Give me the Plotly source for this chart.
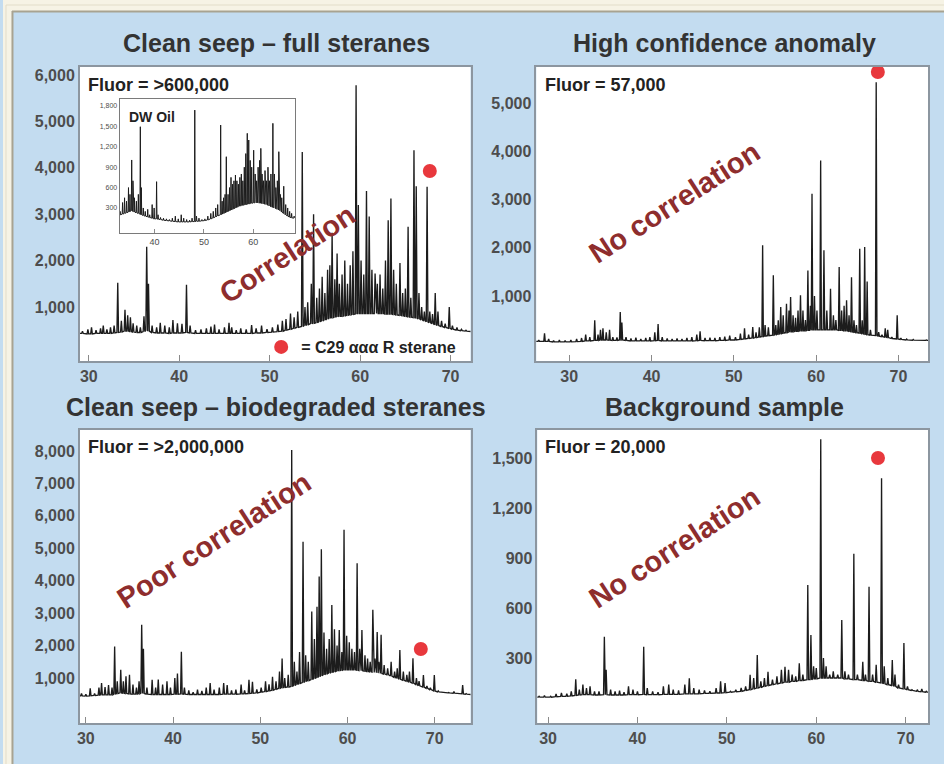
import plotly.graph_objects as go

W, H = 944, 764

# ---------------- data ----------------
# Panel 1: Clean seep - full steranes (retention time, apex, local floor)
p1_rt = [29.0, 29.3, 29.9, 30.3, 30.8, 31.3, 31.6, 32.0, 32.4, 32.8, 33.2, 33.6, 34.0, 34.3, 34.6, 34.9,
         35.3, 35.7, 36.1, 36.4, 36.6, 37.0, 37.5, 37.9, 38.4, 38.9, 39.3, 39.8, 40.3, 40.8, 41.2, 41.8,
         42.4, 43.0, 43.5, 43.9, 44.4, 45.0, 45.5, 45.8, 46.3, 46.8, 47.4, 48.0, 48.5, 49.1, 49.7, 50.3,
         50.9, 51.4, 51.8, 52.3, 52.7, 53.1, 53.6, 53.9, 54.2, 54.6, 54.85, 55.2, 55.5, 55.8, 56.1, 56.4,
         56.65, 56.9, 57.2, 57.45, 57.7, 58.0, 58.3, 58.6, 58.9, 59.2, 59.55, 59.8, 60.1, 60.4, 60.7, 61.0,
         61.3, 61.65, 61.9, 62.2, 62.5, 62.8, 63.1, 63.4, 63.7, 64.0, 64.4, 64.7, 65.0, 65.3, 65.6, 65.95,
         66.2, 66.5, 66.8, 67.1, 67.4, 67.7, 68.0, 68.3, 68.6, 69.0, 69.4, 69.85, 70.2, 70.7, 71.2, 71.7, 72.2]
p1_top = [430, 480, 520, 560, 500, 540, 600, 520, 560, 600, 1520, 700, 940, 820, 780, 650,
          600, 560, 800, 2300, 1500, 600, 560, 660, 600, 560, 720, 650, 640, 1480, 600, 500,
          520, 540, 580, 620, 520, 560, 660, 560, 500, 540, 520, 610, 540, 600, 520, 560,
          620, 700, 740, 860, 780, 900, 4340, 1000, 1100, 1500, 3000, 1200, 1400, 1650, 1300, 1800,
          1900, 2600, 1600, 2150, 1500, 1700, 2000, 1500, 1900, 2200, 5780, 3200, 2000, 1700, 3500, 2950,
          1800, 1720, 1500, 1700, 1400, 2000, 2870, 3340, 1800, 1500, 1950, 1300, 1400, 2730, 1200, 4380,
          3600, 1300, 1000, 900, 3590, 900, 850, 1300, 900, 700, 640, 1000, 600, 560, 520, 500, 470]
p1_base = [430, 430, 420, 420, 430, 430, 430, 430, 430, 440, 450, 460, 480, 480, 470, 460,
           450, 450, 470, 500, 480, 450, 440, 440, 440, 430, 440, 440, 440, 450, 440, 430,
           430, 430, 430, 430, 430, 430, 430, 430, 430, 430, 430, 430, 440, 440, 450, 460,
           470, 480, 500, 520, 540, 560, 580, 600, 620, 640, 650, 660, 680, 700, 720, 740,
           760, 770, 780, 790, 800, 800, 810, 820, 830, 840, 850, 860, 860, 860, 860, 860,
           860, 860, 860, 860, 860, 850, 850, 850, 840, 830, 820, 810, 800, 790, 780, 770,
           760, 740, 720, 700, 680, 660, 640, 620, 600, 580, 560, 540, 520, 500, 490, 480, 470]

# Inset: DW Oil
in_rt = [32.9, 33.0, 33.5, 33.9, 34.3, 34.7, 35.0, 35.35, 35.6, 35.9, 36.3, 36.7, 37.1, 37.3, 37.7, 38.1,
         38.6, 39.0, 39.5, 39.9, 40.4, 40.7, 41.2, 41.8, 42.4, 43.0, 43.6, 44.2, 44.8, 45.4, 45.9, 46.5,
         47.1, 47.6, 48.15, 48.5, 49.0, 49.6, 50.2, 50.8, 51.4, 51.9, 52.4, 52.8, 53.4, 53.7, 54.0, 54.3,
         54.55, 54.9, 55.2, 55.5, 55.8, 56.1, 56.4, 56.7, 57.0, 57.3, 57.6, 57.9, 58.2, 58.5, 58.8, 59.1,
         59.4, 59.7, 60.1, 60.4, 60.7, 61.0, 61.3, 61.55, 61.8, 62.1, 62.4, 62.7, 63.0, 63.3, 63.6, 64.0,
         64.3, 64.6, 64.9, 65.2, 65.5, 65.8, 66.2, 66.6, 67.0, 67.4, 67.8, 68.3, 68.6]
in_top = [200, 250, 380, 450, 400, 600, 500, 1006, 700, 450, 400, 500, 1495, 600, 300, 250,
          280, 200, 350, 300, 687, 200, 160, 150, 140, 130, 150, 180, 140, 200, 150, 130,
          120, 150, 1740, 180, 150, 130, 140, 180, 220, 250, 300, 350, 1520, 400, 450, 500,
          1054, 500, 600, 750, 650, 700, 785, 700, 650, 750, 800, 700, 900, 1100, 1398, 1300,
          1000, 900, 1150, 800, 700, 900, 1000, 1177, 800, 700, 850, 700, 900, 700, 800, 1545,
          800, 600, 700, 1128, 500, 450, 620, 350, 300, 250, 220, 180, 150]
in_base = [200, 200, 210, 220, 230, 240, 250, 260, 250, 240, 230, 220, 210, 200, 190, 180,
           170, 160, 150, 140, 140, 135, 130, 120, 115, 110, 105, 100, 95, 95, 95, 95,
           95, 100, 100, 105, 105, 110, 115, 125, 140, 155, 170, 185, 200, 210, 220, 230,
           240, 250, 260, 270, 280, 290, 300, 310, 320, 330, 335, 340, 345, 350, 355, 360,
           365, 370, 375, 375, 375, 375, 370, 370, 365, 360, 355, 350, 340, 330, 320, 310,
           300, 290, 280, 270, 260, 240, 220, 200, 180, 165, 155, 150, 150]

# Panel 2: High confidence anomaly
p2_rt = [26.0, 26.3, 27.0, 27.5, 28.1, 28.8, 29.5, 30.2, 30.9, 31.5, 32.0, 32.5, 33.1, 33.5, 33.8, 34.1,
         34.5, 34.9, 35.3, 35.8, 36.2, 36.4, 36.9, 37.5, 38.1, 38.7, 39.3, 39.8, 40.4, 40.8, 41.3, 41.9,
         42.5, 43.1, 43.7, 44.3, 44.9, 45.5, 45.9, 46.5, 47.1, 47.7, 48.3, 48.9, 49.5, 50.2, 50.8, 51.3,
         51.8, 52.3, 52.7, 53.1, 53.5, 53.8, 54.2, 54.8, 55.1, 55.4, 55.7, 56.0, 56.4, 56.7, 56.9, 57.2,
         57.5, 57.8, 58.1, 58.4, 58.7, 59.0, 59.3, 59.5, 59.8, 60.1, 60.55, 60.95, 61.3, 61.75, 62.1, 62.4,
         62.8, 63.1, 63.4, 63.7, 64.0, 64.3, 64.6, 64.9, 65.3, 65.6, 65.9, 66.2, 66.6, 67.3, 67.6, 68.0,
         68.4, 68.7, 69.2, 69.85, 70.3, 71.0, 71.8, 72.6, 73.4, 73.8]
p2_top = [60, 90, 230, 110, 80, 90, 80, 90, 110, 130, 200, 150, 500, 200, 300, 330,
          250, 300, 150, 140, 670, 450, 150, 120, 140, 110, 130, 150, 250, 420, 150, 120,
          110, 120, 110, 130, 150, 200, 270, 130, 140, 130, 150, 160, 180, 150, 220, 330,
          200, 360, 250, 350, 2050, 400, 350, 1430, 400, 500, 770, 600, 840, 700, 980, 600,
          550, 700, 1015, 700, 500, 1530, 800, 3120, 1000, 700, 3810, 1950, 700, 1150, 600, 500,
          1600, 700, 800, 910, 600, 1390, 500, 400, 1980, 500, 2015, 1300, 300, 5430, 250, 200,
          330, 300, 150, 600, 130, 110, 100, 90, 90, 80]
p2_base = [60, 60, 60, 60, 50, 50, 50, 50, 55, 60, 70, 70, 80, 80, 90, 90,
           90, 85, 80, 80, 90, 90, 80, 70, 70, 70, 70, 70, 75, 80, 70, 70,
           70, 70, 70, 70, 70, 75, 80, 75, 75, 75, 80, 80, 90, 90, 100, 110,
           120, 130, 140, 150, 160, 170, 180, 190, 200, 210, 220, 230, 240, 250, 260, 260,
           270, 270, 280, 280, 280, 290, 290, 300, 300, 300, 300, 300, 300, 300, 300, 300,
           290, 290, 280, 280, 270, 260, 250, 240, 230, 220, 210, 200, 190, 180, 170, 160,
           150, 140, 120, 110, 100, 90, 85, 80, 80, 80]

# Panel 3: Clean seep - biodegraded steranes
p3_rt = [29.3, 29.5, 30.0, 30.5, 31.0, 31.5, 31.8, 32.2, 32.6, 33.0, 33.3, 33.6, 34.0, 34.3, 34.6, 35.0,
         35.4, 35.8, 36.1, 36.4, 36.6, 37.0, 37.6, 38.0, 38.3, 38.8, 39.3, 39.7, 40.2, 40.5, 40.95, 41.3,
         41.8, 42.3, 42.8, 43.3, 43.8, 44.25, 44.7, 45.3, 45.8, 46.2, 46.7, 47.2, 47.8, 48.2, 48.7, 49.1,
         49.6, 50.1, 50.6, 51.0, 51.4, 51.8, 52.2, 52.5, 52.8, 53.2, 53.6, 53.9, 54.2, 54.5, 54.9, 55.2,
         55.5, 55.9, 56.2, 56.5, 56.75, 57.0, 57.3, 57.6, 57.9, 58.2, 58.5, 58.8, 59.05, 59.35, 59.6, 59.9,
         60.2, 60.5, 60.8, 61.1, 61.4, 61.65, 62.0, 62.3, 62.6, 62.9, 63.15, 63.4, 63.6, 63.85, 64.2, 64.6,
         65.0, 65.4, 65.7, 66.0, 66.4, 66.8, 67.1, 67.5, 67.9, 68.2, 68.7, 69.1, 69.5, 69.95, 70.4, 71.0,
         71.6, 72.2, 72.7, 73.2, 73.6, 74.1]
p3_top = [450, 520, 500, 680, 520, 700, 840, 720, 780, 700, 1970, 900, 1250, 900, 1050, 1100,
          800, 700, 900, 2640, 1900, 700, 940, 700, 950, 800, 900, 700, 1000, 1140, 1810, 700,
          620, 560, 640, 600, 700, 840, 640, 700, 840, 780, 620, 640, 800, 620, 940, 880,
          650, 700, 900, 800, 1040, 900, 1200, 1600, 1000, 1100, 8030, 1500, 1200, 1800, 5200, 1700,
          1500, 3050, 2200, 3200, 4130, 4970, 2400, 1900, 2200, 3250, 2500, 2000, 2480, 1800, 5570, 2300,
          2100, 1900, 1800, 4540, 1900, 2480, 1700, 1600, 1500, 3100, 1600, 2420, 1500, 2330, 1400, 1300,
          1500, 1200, 1300, 1860, 1200, 1100, 1200, 1610, 1000, 900, 1090, 750, 700, 1090, 600, 560,
          550, 580, 540, 785, 520, 490]
p3_base = [450, 450, 440, 450, 460, 470, 480, 480, 480, 480, 500, 520, 540, 530, 520, 510,
           500, 500, 510, 530, 520, 500, 490, 490, 490, 490, 490, 490, 500, 500, 510, 500,
           490, 490, 490, 490, 490, 490, 490, 490, 500, 500, 500, 500, 510, 510, 520, 530,
           540, 560, 580, 600, 620, 650, 680, 700, 710, 720, 740, 770, 800, 830, 860, 890,
           920, 950, 980, 1010, 1040, 1070, 1100, 1130, 1150, 1170, 1190, 1210, 1230, 1240, 1250, 1250,
           1250, 1250, 1250, 1240, 1230, 1220, 1210, 1200, 1190, 1180, 1170, 1160, 1150, 1140, 1120, 1100,
           1060, 1020, 990, 960, 930, 900, 870, 840, 800, 760, 720, 680, 640, 600, 570, 550,
           540, 530, 520, 510, 500, 490]

# Panel 4: Background sample
p4_rt = [28.8, 29.0, 29.6, 30.3, 30.9, 31.5, 32.1, 32.6, 33.1, 33.5, 33.9, 34.3, 34.7, 35.2, 35.7, 36.3,
         36.5, 37.0, 37.5, 38.0, 38.5, 39.0, 39.5, 40.0, 40.7, 41.1, 41.7, 42.3, 42.9, 43.5, 44.0, 44.6,
         45.3, 45.8, 46.3, 46.9, 47.5, 48.1, 48.8, 49.3, 49.8, 50.4, 51.0, 51.6, 52.1, 52.6, 53.0, 53.4,
         53.8, 54.2, 54.6, 55.1, 55.6, 56.1, 56.5, 56.9, 57.3, 57.7, 58.1, 58.5, 59.05, 59.4, 59.7, 60.0,
         60.5, 60.8, 61.1, 61.5, 61.9, 62.4, 62.85, 63.2, 63.6, 64.2, 64.6, 65.2, 65.5, 65.9, 66.3, 66.7,
         67.3, 67.6, 68.0, 68.5, 68.8, 69.2, 69.8, 70.2, 70.7, 71.3, 71.8, 72.3, 72.6]
p4_top = [65, 70, 75, 70, 85, 90, 85, 100, 172, 110, 140, 120, 130, 100, 100, 428,
          230, 110, 100, 105, 95, 130, 110, 100, 368, 120, 100, 95, 130, 140, 110, 105,
          140, 178, 120, 110, 105, 100, 120, 160, 150, 100, 110, 120, 130, 200, 180, 318,
          160, 180, 218, 170, 190, 230, 248, 230, 200, 190, 268, 200, 738, 438, 250, 240,
          1612, 300, 250, 200, 220, 200, 528, 220, 200, 926, 200, 278, 200, 728, 200, 260,
          1378, 250, 180, 288, 200, 140, 390, 130, 110, 110, 115, 100, 95]
p4_base = [65, 65, 65, 65, 68, 70, 70, 72, 75, 78, 80, 80, 80, 78, 78, 80,
           80, 78, 78, 78, 78, 80, 80, 80, 82, 80, 80, 80, 82, 82, 82, 82,
           85, 85, 85, 85, 88, 88, 90, 90, 92, 95, 98, 100, 105, 110, 115, 120,
           125, 130, 135, 140, 145, 150, 155, 155, 160, 160, 165, 165, 170, 170, 175, 175,
           180, 180, 180, 180, 180, 180, 180, 175, 175, 170, 170, 165, 165, 160, 160, 155,
           150, 145, 140, 135, 130, 120, 115, 110, 105, 100, 98, 95, 95]

# C29 aaa R sterane markers (one per panel: full, anomaly, biodegraded, background)
dot_rt = [67.7, 67.5, 68.4, 66.9]
dot_val = [3930, 5640, 1895, 1500]

titles = ["Clean seep \u2013 full steranes", "High confidence anomaly",
          "Clean seep \u2013 biodegraded steranes", "Background sample"]
fluor = ["Fluor = >600,000", "Fluor = 57,000", "Fluor = >2,000,000", "Fluor = 20,000"]
verdicts = ["Correlation", "No correlation", "Poor correlation", "No correlation"]

x_ticks = [30, 40, 50, 60, 70]
y_ticks = [[1000, 2000, 3000, 4000, 5000, 6000],
           [1000, 2000, 3000, 4000, 5000],
           [1000, 2000, 3000, 4000, 5000, 6000, 7000, 8000],
           [300, 600, 900, 1200, 1500]]
inset_xticks = [40, 50, 60]
inset_yticks = [300, 600, 900, 1200, 1500, 1800]

# ---------------- layout constants ----------------
FONT = "Liberation Sans, Arial, Helvetica, sans-serif"
BLUE = "#c3dcf0"
CREAM = "#f6f3e5"
LINE = "#1c1c1c"
RED = "#e8383d"
DARKRED = "#8e2d2d"
FRAME = "#8c96a0"
TICK = "#4d4d4d"


def px_x(p):
    return p / W


def px_y(p):
    return 1 - p / H


def chrom(rt, top, base, hw):
    xs, ys = [], []
    for t, a, b in sorted(zip(rt, top, base)):
        xs += [t - hw, t, t + hw]
        ys += [b, a, b]
    return xs, ys


panels = [
    dict(x=(77, 469), y=(67, 361), xr=[29.0, 72.2], yr=[-164, 6172], data=(p1_rt, p1_top, p1_base)),
    dict(x=(535, 928), y=(67, 361), xr=[26.0, 73.6], yr=[-346, 5745], data=(p2_rt, p2_top, p2_base)),
    dict(x=(77, 469), y=(430, 723), xr=[29.3, 74.1], yr=[-389, 8648], data=(p3_rt, p3_top, p3_base)),
    dict(x=(536, 928), y=(430, 723), xr=[28.8, 72.5], yr=[-90, 1668], data=(p4_rt, p4_top, p4_base)),
]

fig = go.Figure()
layout = {}

for i, p in enumerate(panels):
    n = i + 1
    xa = "x" if n == 1 else f"x{n}"
    ya = "y" if n == 1 else f"y{n}"
    xs, ys = chrom(*p["data"], hw=0.09)
    fig.add_trace(go.Scatter(x=xs, y=ys, mode="lines", xaxis=xa, yaxis=ya,
                             line=dict(color=LINE, width=1.35), showlegend=False, hoverinfo="skip"))
    fig.add_trace(go.Scatter(x=[dot_rt[i]], y=[dot_val[i]], mode="markers", xaxis=xa, yaxis=ya,
                             marker=dict(color=RED, size=14), showlegend=(n == 1),
                             name="= C29 \u03b1\u03b1\u03b1 R sterane"))
    layout[f"xaxis{'' if n == 1 else n}"] = dict(
        domain=[px_x(p["x"][0]), px_x(p["x"][1])], range=p["xr"], anchor=ya,
        tickvals=x_ticks, ticks="inside", ticklen=6, tickwidth=1.2, tickcolor="#8a8a8a",
        showline=True, mirror=True, linecolor=FRAME, linewidth=1.5,
        showgrid=False, zeroline=False,
        tickfont=dict(family=FONT, size=16, color=TICK, weight="bold"))
    layout[f"yaxis{'' if n == 1 else n}"] = dict(
        domain=[px_y(p["y"][1]), px_y(p["y"][0])], range=p["yr"], anchor=xa,
        tickvals=y_ticks[i], tickformat=",", ticks="",
        showline=True, mirror=True, linecolor=FRAME, linewidth=1.5,
        showgrid=False, zeroline=False,
        tickfont=dict(family=FONT, size=16, color=TICK, weight="bold"))

# inset
xs, ys = chrom(in_rt, in_top, in_base, hw=0.08)
fig.add_trace(go.Scatter(x=xs, y=ys, mode="lines", xaxis="x5", yaxis="y5",
                         line=dict(color=LINE, width=1.0), showlegend=False, hoverinfo="skip"))
layout["xaxis5"] = dict(domain=[px_x(117), px_x(293)], range=[32.9, 68.5], anchor="y5",
                        tickvals=inset_xticks, ticks="inside", ticklen=4, tickcolor="#8a8a8a",
                        showline=True, mirror=True, linecolor="#7a7a7a", linewidth=1,
                        showgrid=False, zeroline=False,
                        tickfont=dict(family=FONT, size=9, color=TICK))
layout["yaxis5"] = dict(domain=[px_y(233), px_y(99)], range=[-68, 1903], anchor="x5",
                        tickvals=inset_yticks, tickformat=",", ticks="",
                        showline=True, mirror=True, linecolor="#7a7a7a", linewidth=1,
                        showgrid=False, zeroline=False,
                        tickfont=dict(family=FONT, size=7, color=TICK))

annotations = []
title_pos = [(274, 43), (724, 43), (274, 407), (724, 407)]
for t, (cx, cy) in zip(titles, title_pos):
    annotations.append(dict(text=t, x=px_x(cx), y=px_y(cy), xref="paper", yref="paper",
                            showarrow=False, xanchor="center", yanchor="middle",
                            font=dict(family=FONT, size=25, color="#333333", weight="bold")))
fluor_pos = [(83, 85), (542, 85), (83, 447), (542, 447)]
for t, (cx, cy) in zip(fluor, fluor_pos):
    annotations.append(dict(text=t, x=px_x(cx), y=px_y(cy), xref="paper", yref="paper",
                            showarrow=False, xanchor="left", yanchor="middle",
                            font=dict(family=FONT, size=18, color="#222222", weight="bold")))
verdict_pos = [(285, 254), (674, 202), (212, 540), (674, 547)]
for t, (cx, cy) in zip(verdicts, verdict_pos):
    annotations.append(dict(text=t, x=px_x(cx), y=px_y(cy), xref="paper", yref="paper",
                            showarrow=False, xanchor="center", yanchor="middle", textangle=-33,
                            font=dict(family=FONT, size=29, color=DARKRED, weight="bold")))
annotations.append(dict(text="DW Oil", x=px_x(124), y=px_y(117), xref="paper", yref="paper",
                        showarrow=False, xanchor="left", yanchor="middle",
                        font=dict(family=FONT, size=14, color="#222222", weight="bold")))

shapes = [
    # cream page edge (top and left) with the grey border line of the blue panel
    dict(type="rect", xref="paper", yref="paper", x0=0, x1=1, y0=px_y(11), y1=1,
         fillcolor=CREAM, line=dict(width=0), layer="above"),
    dict(type="rect", xref="paper", yref="paper", x0=0, x1=px_x(9), y0=0, y1=1,
         fillcolor=CREAM, line=dict(width=0), layer="above"),
    dict(type="line", xref="paper", yref="paper", x0=px_x(9), x1=1, y0=px_y(11.5), y1=px_y(11.5),
         line=dict(color="#a8a391", width=2), layer="above"),
    dict(type="line", xref="paper", yref="paper", x0=px_x(9.5), x1=px_x(9.5), y0=0, y1=px_y(11),
         line=dict(color="#a8a391", width=2), layer="above"),
    dict(type="line", xref="paper", yref="paper", x0=px_x(3), x1=1, y0=px_y(5), y1=px_y(5),
         line=dict(color="#e2ddc9", width=1), layer="above"),
    dict(type="line", xref="paper", yref="paper", x0=px_x(3), x1=px_x(3), y0=0, y1=px_y(5),
         line=dict(color="#e2ddc9", width=1), layer="above"),
]

fig.update_layout(
    width=W, height=H, margin=dict(l=0, r=0, t=0, b=0),
    paper_bgcolor=BLUE, plot_bgcolor="white",
    annotations=annotations, shapes=shapes,
    legend=dict(x=px_x(259), y=px_y(347), xanchor="left", yanchor="middle",
                bgcolor="rgba(0,0,0,0)",
                font=dict(family=FONT, size=16, color="#222222", weight="bold")),
    **layout,
)

fig.write_html("out.html", config={"displayModeBar": False},
               post_script="document.body.style.margin='0';document.body.style.background='%s';" % CREAM)
